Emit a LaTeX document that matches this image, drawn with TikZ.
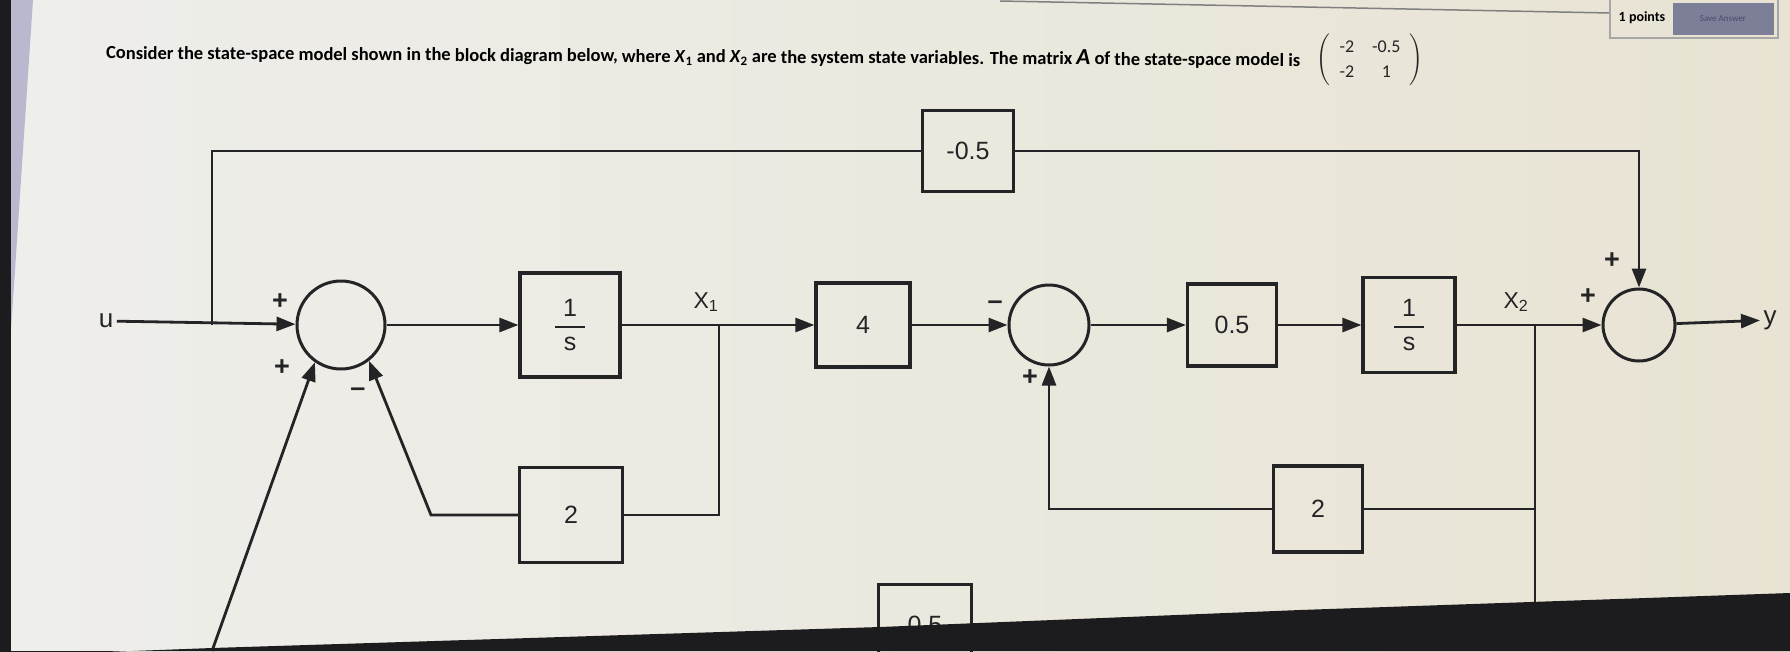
\documentclass[tikz,border=0pt]{standalone}
\usepackage{fontspec}
\usepackage{amsmath}
\usepackage{graphicx}
\setmainfont{Liberation Sans}
\newfontfamily\qfont{Carlito}
\usetikzlibrary{arrows.meta}

\definecolor{paperl}{RGB}{238,238,235}
\definecolor{paperr}{RGB}{232,227,211}
\definecolor{screen}{RGB}{28,28,30}
\definecolor{lav}{RGB}{186,184,206}
\definecolor{btn}{RGB}{125,127,153}
\definecolor{btntext}{RGB}{70,74,108}
\definecolor{ink}{RGB}{36,36,38}

\newcommand{\intg}{$\genfrac{}{}{2.2pt}{0}{\makebox[30pt]{1}}{\makebox[30pt]{s}}$}

\begin{document}
\begin{tikzpicture}[
  x=1pt, y=-1pt,
  gain/.style 2 args={draw=ink, line width=3.2pt, minimum width=#1, minimum height=#2,
    inner sep=0pt, text=ink, font=\fontsize{25}{25}\selectfont},
  sumnode/.style={draw=ink, circle, line width=3pt, minimum size=#1, inner sep=0pt},
  wire/.style={draw=ink, line width=2.8pt},
  sig/.style={wire, -{Triangle[length=19pt,width=14pt]}},
  pm/.style={text=ink, font=\bfseries\fontsize{27}{27}\selectfont},
  lbl/.style={text=ink, font=\fontsize{26}{26}\selectfont}
]
\shade[left color=paperl, right color=paperr] (0,0) rectangle (1790,651);
\useasboundingbox (0,0) rectangle (1790,651);

\node[
  anchor=west,
  rotate=-0.35,
  inner sep=0pt,
  text=black
] (qtext) at (106,53) {\resizebox{1194pt}{\height}{\qfont\bfseries\fontsize{18.5}{18.5}\selectfont
  Consider the state-space model shown in the block diagram below, where \textit{X}\textsubscript{1} and
  \textit{X}\textsubscript{2} are the system state variables. The matrix \textit{\fontsize{23}{23}\selectfont A} of the state-space model is}};
\node[inner sep=0pt, text=ink] (amat) at (1370,60)
  {\qfont\fontsize{18}{18}\selectfont\renewcommand\arraystretch{1.4}\setlength\arraycolsep{9pt}%
  $\left(\begin{array}{cc}\mbox{-2} & \mbox{-0.5}\\ \mbox{-2} & \mbox{1}\end{array}\right)$};

\draw[gray, line width=1.5pt] (1000,1) -- (1610,13);
\draw[gray!70, line width=1.5pt] (1610,0) -- (1610,38) -- (1778,38) -- (1778,0);
\fill[btn] (1673,3) rectangle (1774,35);
\node[font=\qfont\bfseries\fontsize{14}{14}\selectfont] (pts) at (1642,18) {1 points};
\node[font=\qfont\fontsize{9}{9}\selectfont, text=btntext] (save) at (1723,19) {Save Answer};

% forward path
\node[lbl] (uin) at (106,321) {u};
\node[sumnode=88pt] (s1) at (341,325) {};
\node[gain={100pt}{104pt}] (int1) at (570,325) {\intg};
\node[gain={94pt}{84pt}] (g4) at (863,325) {4};
\node[sumnode=80pt] (s2) at (1049,325) {};
\node[gain={89pt}{82pt}] (g05) at (1232,325) {0.5};
\node[gain={92pt}{95pt}] (int2) at (1409,325) {\intg};
\node[sumnode=72pt] (s3) at (1639,325) {};
\node[lbl] (yout) at (1770,320) {y};
\node[lbl, font=\fontsize{23}{23}\selectfont] (x1) at (706,302) {X\textsubscript{1}};
\node[lbl, font=\fontsize{23}{23}\selectfont] (x2) at (1516,302) {X\textsubscript{2}};

% feed-forward and feedback gains
\node[gain={91pt}{81pt}] (gtop) at (968,151) {-0.5};
\node[gain={103pt}{95pt}] (g2a) at (571,515) {2};
\node[gain={89pt}{86pt}] (g2b) at (1318,509) {2};
\node[gain={93pt}{80pt}, anchor=north] (gbot) at (925,583) {0.5};

\coordinate (b0) at (212,325);
\coordinate (b1) at (719,325);
\coordinate (b2) at (1535,325);
\coordinate (lc) at (431,515);
\coordinate (lin) at (212,651);
\coordinate (x2end) at (1535,651);

\draw[sig] (uin) -- (s1);
\draw[wire] (b0) -- (b0 |- gtop) -- (gtop);
\draw[sig] (gtop) -| (s3);
\draw[sig] (s1) -- (int1);
\draw[wire] (int1) -- (b1);
\draw[sig] (b1) -- (g4);
\draw[sig] (g4) -- (s2);
\draw[sig] (s2) -- (g05);
\draw[sig] (g05) -- (int2);
\draw[wire] (int2) -- (b2);
\draw[sig] (b2) -- (s3);
\draw[sig] (s3) -- (yout);
\draw[wire] (b1) |- (g2a);
\draw[sig] (g2a) -- (lc) -- (s1.-52);
\draw[sig] (lin) -- (s1.-125);
\draw[wire] (b2) -- (x2end);
\draw[wire] (b2 |- g2b) -- (g2b);
\draw[sig] (g2b) -| (s2);

% signs
\node[pm] at (280,302) {+};
\node[pm] at (282,368) {+};
\node[pm] at (358,392) {--};
\node[pm] at (995,305) {--};
\node[pm] at (1030,378) {+};
\node[pm] at (1588,297) {+};
\node[pm] at (1612,261) {+};

% screen edges
\fill[screen] (0,0) rectangle (11,651);
\fill[lav] (11,0) -- (33,0) -- (11,330) -- cycle;
\fill[screen] (0,656) -- (212,648) -- (880,627) -- (1300,610) -- (1790,593) -- (1790,651) -- (0,651) -- cycle;
\end{tikzpicture}
\end{document}
